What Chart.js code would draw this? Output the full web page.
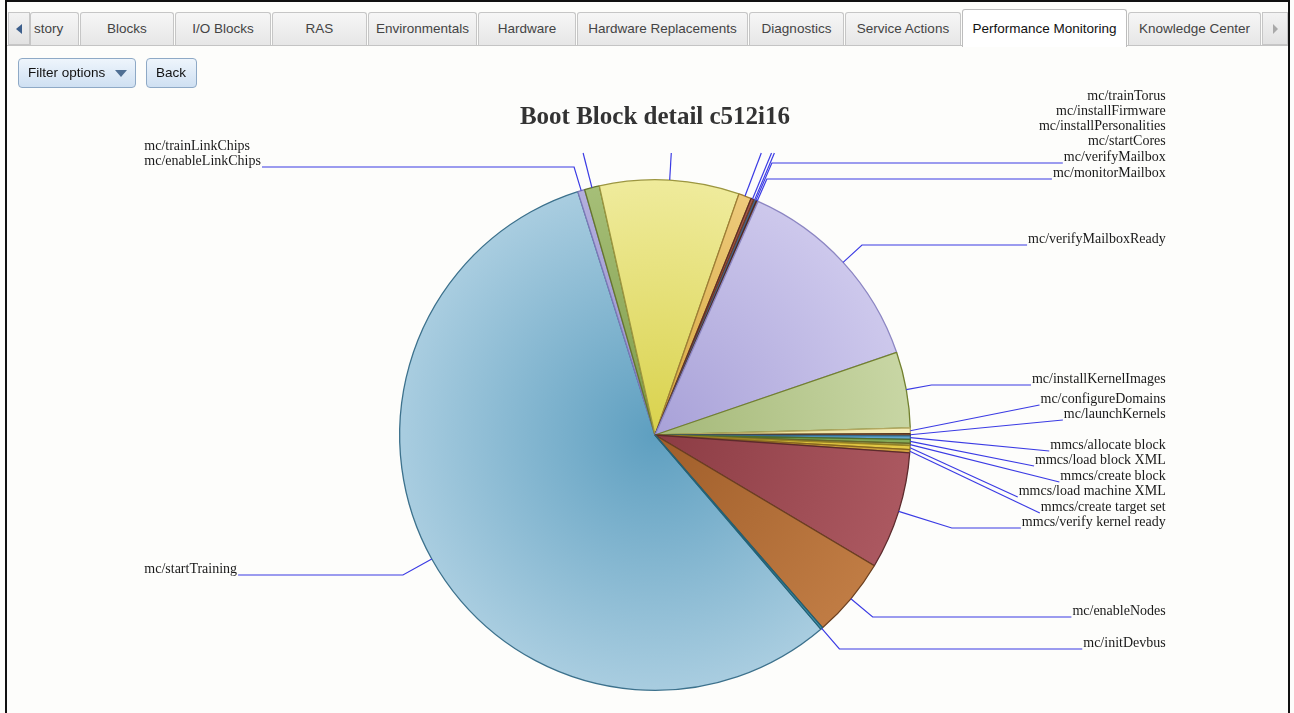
<!DOCTYPE html>
<html>
<head>
<meta charset="utf-8">
<title>Boot Block detail c512i16</title>
<script src="https://cdn.jsdelivr.net/npm/chart.js@4.4.1/dist/chart.umd.min.js"></script>
<style>
  html, body { margin: 0; padding: 0; }
  body {
    width: 1294px; height: 713px; overflow: hidden; position: relative;
    background: #fdfdfb; font-family: "Liberation Sans", Arial, sans-serif;
  }
  .frame {
    position: absolute; left: 5px; top: 0; width: 1285px; height: 713px;
    border-left: 2px solid #111; border-right: 2px solid #111; border-top: 2px solid #111;
    box-sizing: border-box;
  }
  .tabline { position: absolute; left: 7px; right: 6px; top: 45px; border-top: 1px solid #c4c4c4; }
  .tab {
    position: absolute; top: 12px; height: 33px; box-sizing: border-box;
    border: 1px solid #c6c6c6; border-bottom: none; border-radius: 3px 3px 0 0;
    background: linear-gradient(#f6f6f6, #e6e6e6);
    font-size: 13.5px; color: #444; text-align: center; line-height: 32px;
    white-space: nowrap; overflow: hidden;
  }
  .tab.active { top: 9px; height: 38px; background: #fff; color: #111; line-height: 37px; border-color: #bdbdbd; }
  .arrow { position: absolute; top: 12px; height: 33px; width: 22px; box-sizing: border-box;
    border: 1px solid #c6c6c6; background: linear-gradient(#f3f3f3, #e2e2e2); }
  .btn {
    position: absolute; top: 58px; height: 30px; box-sizing: border-box;
    border: 1px solid #8ea9c6; border-radius: 4px;
    background: linear-gradient(#eef5fc, #cfe0f2);
    font-size: 13.5px; color: #111; line-height: 28px; padding-left: 9px;
  }
  #wrap { position: absolute; left: 7px; top: 80px; width: 1280px; height: 633px; }
</style>
</head>
<body>
<div class="frame"></div>
<div id="wrap"><canvas id="pie"></canvas></div>
<div class="tabline"></div>
<div class="arrow" style="left:8px"><svg width="20" height="31"><polygon points="13,11 13,21 7,16" fill="#3d5f8c"/></svg></div>
<div class="tab" style="left:30px;width:49px;text-align:left;padding-left:3px">story</div>
<div class="tab" style="left:80px;width:94px">Blocks</div>
<div class="tab" style="left:175px;width:96px">I/O Blocks</div>
<div class="tab" style="left:272px;width:95px">RAS</div>
<div class="tab" style="left:368px;width:109px">Environmentals</div>
<div class="tab" style="left:478px;width:98px">Hardware</div>
<div class="tab" style="left:577px;width:171px">Hardware Replacements</div>
<div class="tab" style="left:749px;width:95px">Diagnostics</div>
<div class="tab" style="left:845px;width:116px">Service Actions</div>
<div class="tab active" style="left:962px;width:165px">Performance Monitoring</div>
<div class="tab" style="left:1128px;width:133px">Knowledge Center</div>
<div class="arrow" style="left:1262px;width:26px"><svg width="22" height="31"><polygon points="10,11 10,21 15,16" fill="#a9a9a9"/></svg></div>

<div class="btn" style="left:18px;width:118px">Filter options
  <svg width="14" height="10" style="position:absolute;left:96px;top:10px"><polygon points="0,1 12,1 6,8" fill="#4f6f94"/></svg></div>
<div class="btn" style="left:146px;width:51px">Back</div>

<script>
// slices in clockwise order, starting at the lower right of mc/startTraining
const CATEGORIES = [
  'mc/startTraining', 'mc/enableLinkChips', 'mc/trainLinkChips', 'mc/trainTorus',
  'mc/installFirmware', 'mc/installPersonalities', 'mc/startCores', 'mc/verifyMailbox',
  'mc/monitorMailbox', 'mc/verifyMailboxReady', 'mc/installKernelImages', 'mc/configureDomains',
  'mc/launchKernels', 'mmcs/allocate block', 'mmcs/load block XML', 'mmcs/create block',
  'mmcs/load machine XML', 'mmcs/create target set', 'mmcs/verify kernel ready',
  'mc/enableNodes', 'mc/initDevbus'
];
const DURATIONS = [
  202.9, 1.6, 3.4, 31.8,
  2.9, 0.7, 0.3, 0.3,
  0.4, 47.3, 17.3, 1.3,
  0.5, 0.8, 0.9, 0.5,
  0.9, 0.7, 26.8,
  18.2, 0.5
];
const START_ANGLE = 139.5;

// colours: [edge, centre, border]
const COLOURS = [
  ['#a9cde0', '#5e9fc0', '#3c718c'],
  ['#b3afdd', '#9792cc', '#7d78b8'],
  ['#a6bf78', '#7d9a48', '#66762e'],
  ['#efeb9c', '#d9d24c', '#9c9640'],
  ['#eecb7c', '#d6a53c', '#9e7c34'],
  ['#a4584a', '#8a4032', '#5e2e24'],
  ['#c07a55', '#a05c3a', '#6e3e28'],
  ['#7ea0c4', '#5a80aa', '#40628a'],
  ['#86503e', '#6e3c2c', '#4e2a20'],
  ['#cdc8ec', '#a8a1d8', '#8c86c2'],
  ['#c8d6a4', '#a4b878', '#72802e'],
  ['#f4edb8', '#e4d88a', '#b4a860'],
  ['#8e5c3c', '#74462a', '#553420'],
  ['#62a6cc', '#4588b0', '#346a8c'],
  ['#86ac5a', '#6a9040', '#4e6e2c'],
  ['#a8a650', '#8c8a38', '#686628'],
  ['#e6cc48', '#ccb030', '#9a8424'],
  ['#d2a440', '#b48a2c', '#886620'],
  ['#ab5860', '#8c3c44', '#5c2a2c'],
  ['#c07c44', '#a05e2a', '#6c4020'],
  ['#4a9ab2', '#2e7e98', '#236276']
];

// label placement: side, vertical offset of the text from the pie centre (px), leader kind
const LABEL_LAYOUT = [
  ['L', 134, 'elbow'], ['L', -274, 'elbow'], ['L', -289, 'stub'], ['R', -339, 'stub'],
  ['R', -324, 'stub'], ['R', -309, 'stub'], ['R', -294, 'stub'], ['R', -278, 'elbow'],
  ['R', -262, 'elbow'], ['R', -196, 'elbow'], ['R', -56, 'elbow'], ['R', -36, 'direct'],
  ['R', -21, 'direct'], ['R', 10, 'direct'], ['R', 25, 'direct'], ['R', 41, 'direct'],
  ['R', 56, 'direct'], ['R', 72, 'direct'], ['R', 87, 'elbow'],
  ['R', 176, 'elbow'], ['R', 208, 'elbow']
];

function sliceFill(context) {
  const chart = context.chart;
  const area = chart.chartArea;
  const col = COLOURS[context.dataIndex];
  if (!area) return col[0];
  const cx = (area.left + area.right) / 2;
  const cy = (area.top + area.bottom) / 2;
  const r = Math.min(area.width, area.height) / 2;
  const g = chart.ctx.createRadialGradient(cx, cy, 0, cx, cy, r);
  g.addColorStop(0, col[1]);
  g.addColorStop(1, col[0]);
  return g;
}

const leaderLabels = {
  id: 'leaderLabels',
  afterDatasetsDraw(chart) {
    const ctx = chart.ctx;
    const meta = chart.getDatasetMeta(0);
    ctx.save();
    ctx.font = '14px "Liberation Serif", "Times New Roman", serif';
    ctx.fillStyle = '#1a1a1a';
    ctx.strokeStyle = '#3b3be4';
    ctx.lineWidth = 1.2;
    ctx.textBaseline = 'middle';
    meta.data.forEach((arc, i) => {
      const p = arc.getProps(['x', 'y', 'startAngle', 'endAngle', 'outerRadius'], true);
      const [side, dy, kind] = LABEL_LAYOUT[i];
      const mid = (p.startAngle + p.endAngle) / 2;
      const ux = Math.cos(mid), uy = Math.sin(mid);
      const ax = p.x + ux * p.outerRadius;
      const ay = p.y + uy * p.outerRadius;
      const text = CATEGORIES[i];
      const tw = ctx.measureText(text).width;
      const ty = p.y + dy;
      const ly = ty + 6;
      const tx = side === 'R' ? p.x + 2 * p.outerRadius : p.x - 2 * p.outerRadius;
      const joinX = side === 'R' ? tx - tw - 1 : tx + tw + 1;

      ctx.beginPath();
      ctx.moveTo(ax, ay);
      if (kind === 'stub') {
        const sy = p.y - 282;
        const t = (sy - ay) / uy;
        ctx.lineTo(ax + ux * t, sy);
      } else if (kind === 'direct') {
        ctx.lineTo(joinX, ly);
      } else {
        let t = Math.abs(uy) > 0.05 ? (ly - ay) / uy : 20;
        if (t < 8) t = 8;
        ctx.lineTo(ax + ux * t, ly);
        ctx.lineTo(joinX, ly);
      }
      ctx.stroke();

      ctx.textAlign = side === 'R' ? 'right' : 'left';
      ctx.fillText(text, tx, ty);
    });
    ctx.restore();
  }
};

new Chart(document.getElementById('pie'), {
  type: 'pie',
  data: {
    labels: CATEGORIES,
    datasets: [{
      data: DURATIONS,
      backgroundColor: sliceFill,
      borderColor: COLOURS.map(c => c[2]),
      borderWidth: 1.3
    }]
  },
  options: {
    responsive: true,
    maintainAspectRatio: false,
    animation: false,
    rotation: START_ANGLE,
    layout: { padding: { left: 16, right: 0, top: 0, bottom: 22 } },
    plugins: {
      legend: { display: false },
      tooltip: { enabled: false },
      title: {
        display: true,
        text: 'Boot Block detail c512i16',
        color: '#333',
        font: { family: '"Liberation Serif", "Times New Roman", serif', size: 25, weight: 'bold', lineHeight: 1.2 },
        padding: { top: 23, bottom: 46 }
      }
    }
  },
  plugins: [leaderLabels]
});
</script>
</body>
</html>
